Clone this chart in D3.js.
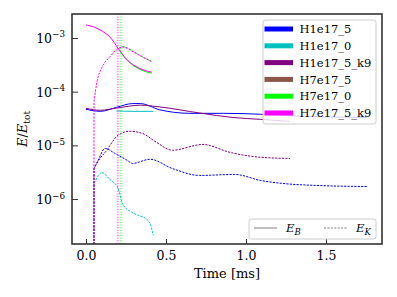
<!DOCTYPE html>
<html>
<head>
<meta charset="utf-8">
<script src="https://cdn.jsdelivr.net/npm/d3@7"></script>
<style>
  body { margin: 0; background: #fff; }
  svg text { font-family: "DejaVu Serif", "Liberation Serif", serif; fill: #000; }
</style>
</head>
<body>
<div id="chart"></div>
<script>
const runNames = ["H1e17_5", "H1e17_0", "H1e17_5_k9", "H7e17_5", "H7e17_0", "H7e17_5_k9"];
const runColors = ["#0000ff", "#00bfbf", "#800080", "#8c564b", "#00ff00", "#ff00ff"];

// time [ms] and E/E_tot, solid = E_B, dashed = E_K
const h1e17_5 = {
  tB: [0, 0.09, 0.19, 0.29, 0.34, 0.46, 0.65, 0.86, 1.09, 1.34, 1.76],
  eB: [4.7e-5, 4.3e-5, 5.1e-5, 6.0e-5, 6.0e-5, 4.6e-5, 3.95e-5, 3.95e-5, 3.8e-5, 3.5e-5, 3.3e-5],
  tK: [0, 0.05, 0.075, 0.12, 0.18, 0.26, 0.29, 0.4, 0.54, 0.71, 0.93, 1.09, 1.23, 1.44, 1.76],
  eK: [0, 3.7e-6, 5.2e-6, 8.8e-6, 7.1e-6, 5.2e-6, 4.6e-6, 5.5e-6, 3.7e-6, 2.75e-6, 2.87e-6, 2.22e-6, 1.95e-6, 1.79e-6, 1.71e-6]
};
const h1e17_0 = {
  tB: [0.19, 0.3, 0.42],
  eB: [4.35e-5, 4.3e-5, 4.3e-5],
  tK: [0, 0.05, 0.1, 0.15, 0.2, 0.23, 0.29, 0.34, 0.37, 0.4, 0.42],
  eK: [0, 1.95e-6, 3.1e-6, 2.3e-6, 1.6e-6, 8e-7, 5.6e-7, 4.8e-7, 4.4e-7, 3.5e-7, 2.1e-7]
};
const h1e17_5_k9 = {
  tB: [0, 0.09, 0.2, 0.34, 0.46, 0.71, 0.92, 1.09, 1.275],
  eB: [4.9e-5, 4.5e-5, 5.0e-5, 5.6e-5, 5.2e-5, 4.0e-5, 3.3e-5, 3.05e-5, 2.8e-5],
  tK: [0, 0.05, 0.0875, 0.13, 0.15, 0.2, 0.275, 0.35, 0.44, 0.54, 0.73, 0.9, 1.09, 1.275],
  eK: [0, 3.7e-6, 5.7e-6, 8.1e-6, 1.0e-5, 1.54e-5, 1.83e-5, 1.68e-5, 1.14e-5, 8.1e-6, 1.04e-5, 7.4e-6, 6.0e-6, 5.7e-6]
};
const h7e17_5 = { tB: [], eB: [], tK: [], eK: [] };
const h7e17_0 = {
  tB: [0.21, 0.25, 0.3, 0.35, 0.41],
  eB: [5.8e-4, 4.1e-4, 3.0e-4, 2.5e-4, 2.2e-4],
  tK: [0.21, 0.23, 0.25, 0.3, 0.35, 0.41],
  eK: [6.6e-4, 6.9e-4, 6.7e-4, 5.5e-4, 4.5e-4, 3.7e-4]
};
const h7e17_5_k9 = {
  tB: [0, 0.05, 0.1, 0.15, 0.2, 0.25, 0.3, 0.35, 0.41],
  eB: [1.75e-3, 1.6e-3, 1.35e-3, 1.04e-3, 6.5e-4, 4.1e-4, 3.1e-4, 2.6e-4, 2.3e-4],
  tK: [0, 0.05, 0.07, 0.1, 0.15, 0.2, 0.23, 0.25, 0.3, 0.35, 0.41],
  eK: [0, 6.5e-5, 1.6e-4, 2.8e-4, 4.5e-4, 6.3e-4, 6.8e-4, 6.6e-4, 5.4e-4, 4.5e-4, 3.6e-4]
};
const runs = [h1e17_5, h1e17_0, h1e17_5_k9, h7e17_5, h7e17_0, h7e17_5_k9];

const markerTimes = [0.196, 0.205, 0.215, 0.223];
const markerRuns = ["H7e17_5_k9", "H7e17_5_k9", "H7e17_0", "H7e17_0"];

const xTicks = [0, 0.5, 1.0, 1.5];
const yTickExps = [-6, -5, -4, -3];
const energyNames = ["B", "K"];

const W = 397, H = 297;
const margin = {top: 14, right: 15, bottom: 53, left: 72};
const width = W - margin.left - margin.right,
      height = H - margin.top - margin.bottom;

const svg = d3.select("#chart").append("svg")
  .attr("width", W)
  .attr("height", H);

const g = svg.append("g")
  .attr("transform", "translate(" + margin.left + "," + margin.top + ")");

const xScale = d3.scaleLinear()
  .domain([-0.0875, 1.85])
  .range([0, width]);
const yScale = d3.scaleLog()
  .domain([Math.pow(10, -6.838), Math.pow(10, -2.553)])
  .range([height, 0]);

const floorVal = 1e-300;  // zeros are clipped to this on the log axis
const line = d3.line()
  .curve(d3.curveMonotoneX)
  .x(d => xScale(d.t))
  .y(d => yScale(d.v));

seriesPath = (ts, vs) => {
  const pts = ts.map((t, i) => ({t: t, v: vs[i]}));
  const pos = pts.filter(p => p.v > 0);
  if (!pos.length) return null;
  let d = line(pos);
  const i0 = pts.findIndex(p => p.v > 0);
  if (i0 > 0) d = "M" + xScale(pts[i0 - 1].t) + "," + yScale(floorVal) + "L" + d.slice(1);
  return d;
}

svg.append("defs").append("clipPath")
  .attr("id", "plot-clip")
  .append("rect")
  .attr("width", width)
  .attr("height", height);

const plot = g.append("g").attr("clip-path", "url(#plot-clip)");

runs.forEach((r, i) => {
  const dB = seriesPath(r.tB, r.eB);
  if (dB) plot.append("path")
    .attr("d", dB)
    .attr("fill", "none")
    .attr("stroke", runColors[i])
    .attr("stroke-width", 1);
  const dK = seriesPath(r.tK, r.eK);
  if (dK) plot.append("path")
    .attr("d", dK)
    .attr("fill", "none")
    .attr("stroke", runColors[i])
    .attr("stroke-width", 1)
    .attr("stroke-dasharray", "2.2,1.2");
});

plot.append("g")
  .selectAll("line")
  .data(markerTimes)
  .join("line")
    .attr("x1", d => xScale(d))
    .attr("x2", d => xScale(d))
    .attr("y1", 0)
    .attr("y2", height)
    .attr("stroke", (d, i) => runColors[runNames.indexOf(markerRuns[i])])
    .attr("stroke-opacity", 0.6)
    .attr("stroke-width", 1)
    .attr("stroke-dasharray", "1,1.6");

// axes, ticks pointing inward
const xMinor = d3.range(1, 19).map(d => d / 10).filter(d => d % 0.5 > 1e-9 && 0.5 - (d % 0.5) > 1e-9);
const gX = g.append("g")
  .attr("transform", "translate(0," + height + ")");
gX.call(d3.axisBottom(xScale).tickValues(xMinor).tickSize(-3).tickFormat(""));
gX.call(d3.axisBottom(xScale).tickValues(xTicks).tickSize(-5).tickPadding(7).tickFormat(d3.format(".1f")));
gX.selectAll(".domain").remove();
gX.selectAll("text").attr("font-size", 12.5);
gX.selectAll(".tick line").attr("stroke", "#333");

const yMinor = [];
[-7, -6, -5, -4, -3].forEach(e => {
  for (let k = 2; k < 10; k++) yMinor.push(k * Math.pow(10, e));
});
const yDom = yScale.domain();
const gY = g.append("g");
gY.call(d3.axisLeft(yScale).tickValues(yMinor.filter(v => v > yDom[0] && v < yDom[1])).tickSize(-3).tickFormat(""));
gY.call(d3.axisLeft(yScale).tickValues(yTickExps.map(e => Math.pow(10, e))).tickSize(-6).tickFormat(""));
gY.selectAll(".domain").remove();
gY.selectAll(".tick line").attr("stroke", "#333");

const yLabels = g.append("g")
  .selectAll("text")
  .data(yTickExps)
  .join("text")
    .attr("x", -7)
    .attr("y", d => yScale(Math.pow(10, d)) + 5)
    .attr("text-anchor", "end")
    .attr("font-size", 12.5);
yLabels.append("tspan").text("10");
yLabels.append("tspan")
  .attr("dy", -5.5)
  .attr("font-size", 8.8)
  .text(d => "\u2212" + Math.abs(d));

g.append("rect")
  .attr("width", width)
  .attr("height", height)
  .attr("fill", "none")
  .attr("stroke", "#333")
  .attr("stroke-width", 1.6);

// axis titles
svg.append("text")
  .attr("x", margin.left + width / 2)
  .attr("y", 278)
  .attr("text-anchor", "middle")
  .attr("font-size", 13)
  .text("Time [ms]");

const yTitle = svg.append("text")
  .attr("transform", "translate(27," + (margin.top + height / 2) + ") rotate(-90)")
  .attr("text-anchor", "middle")
  .attr("font-size", 13);
yTitle.append("tspan").attr("font-style", "italic").text("E");
yTitle.append("tspan").text("/");
yTitle.append("tspan").attr("font-style", "italic").text("E");
yTitle.append("tspan").attr("font-size", 9).attr("dy", 2.5).text("tot");

// run legend
const legend = svg.append("g")
  .attr("transform", "translate(263,20)");
legend.append("rect")
  .attr("width", 113)
  .attr("height", 104)
  .attr("rx", 2.5)
  .attr("fill", "#fff")
  .attr("fill-opacity", 0.8)
  .attr("stroke", "#ccc")
  .attr("stroke-width", 1);
const entry = legend.selectAll("g.entry")
  .data(runNames)
  .join("g")
    .attr("class", "entry")
    .attr("transform", (d, i) => "translate(0," + (9 + i * 16.8) + ")");
entry.append("line")
  .attr("x1", 1.5)
  .attr("x2", 30)
  .attr("stroke", (d, i) => runColors[i])
  .attr("stroke-width", 5);
entry.append("text")
  .attr("x", 36.5)
  .attr("y", 4.2)
  .attr("font-size", 11.5)
  .text(d => d);

// energy legend
const legend2 = svg.append("g")
  .attr("transform", "translate(249,219)");
legend2.append("rect")
  .attr("width", 127)
  .attr("height", 20)
  .attr("rx", 2.5)
  .attr("fill", "#fff")
  .attr("fill-opacity", 0.8)
  .attr("stroke", "#ccc")
  .attr("stroke-width", 1);
const entry2 = legend2.selectAll("g.entry")
  .data(energyNames)
  .join("g")
    .attr("class", "entry")
    .attr("transform", (d, i) => "translate(" + (5 + i * 70) + ",9)");
entry2.append("line")
  .attr("x1", 0)
  .attr("x2", 23)
  .attr("stroke", "#808080")
  .attr("stroke-width", 1)
  .attr("stroke-dasharray", (d, i) => i ? "2.2,1.2" : null);
const e2text = entry2.append("text")
  .attr("x", 32)
  .attr("y", 4)
  .attr("font-size", 11.5)
  .attr("font-style", "italic");
e2text.append("tspan").text("E");
e2text.append("tspan").attr("font-size", 8.5).attr("dy", 2.5).text(d => d);
</script>
</body>
</html>
